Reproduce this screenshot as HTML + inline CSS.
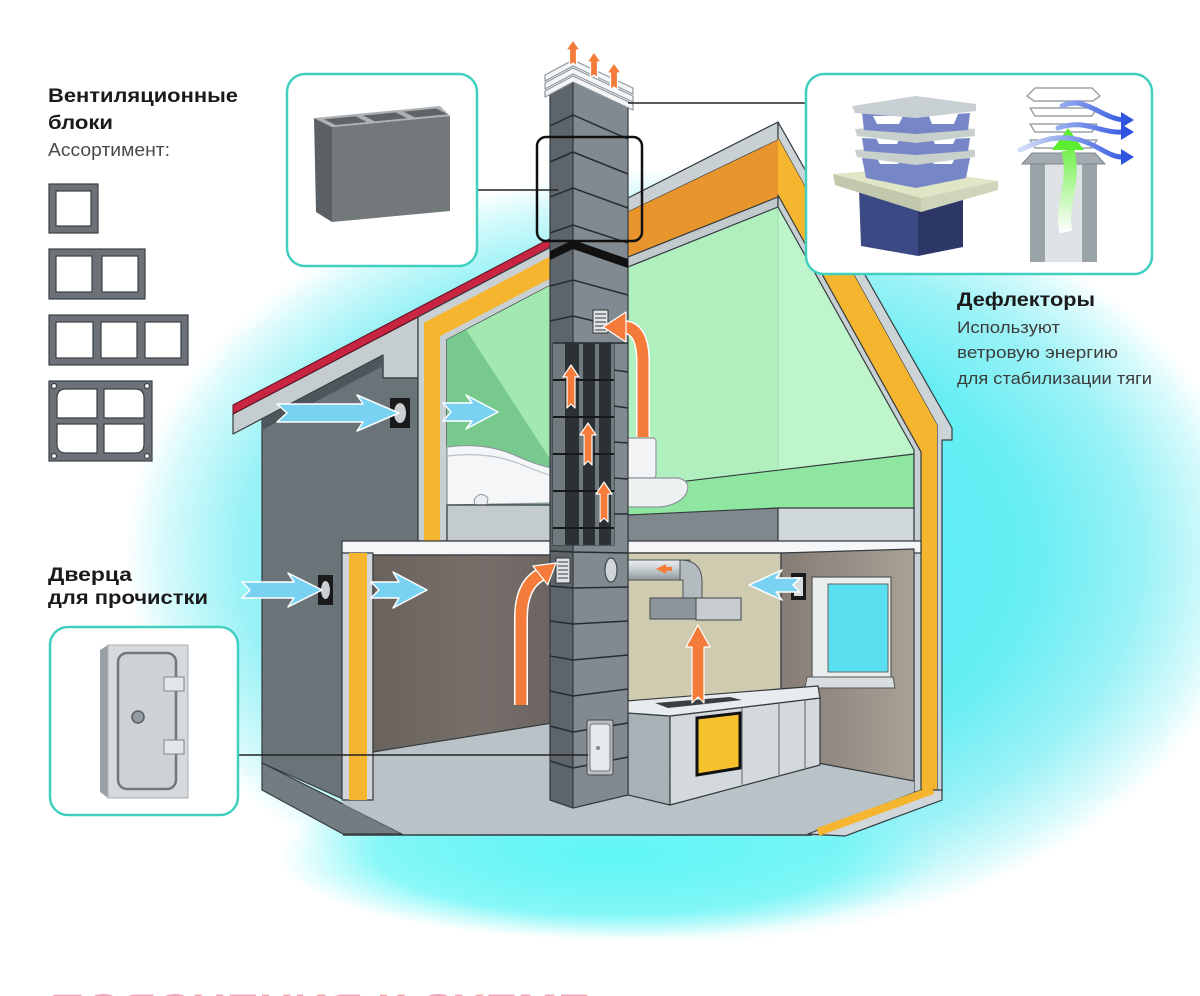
<!DOCTYPE html>
<html><head><meta charset="utf-8"><title>Вентиляционные блоки</title>
<style>
html,body{margin:0;padding:0;background:#fff;width:1200px;height:996px;overflow:hidden}
svg{display:block}
.t{font-family:"Liberation Sans","DejaVu Sans",sans-serif}
.o{stroke:#343b3f;stroke-width:1.2;stroke-linejoin:round}
.ob{fill:#f47b3a;stroke:#ffffff;stroke-width:1.2;stroke-linejoin:round}
.bl{fill:#7ad2f3;stroke:#ffffff;stroke-width:1.5;stroke-linejoin:round}
</style></head><body>
<svg width="1200" height="996" viewBox="0 0 1200 996" xmlns="http://www.w3.org/2000/svg">
<defs>
<radialGradient id="glow" cx="0.5" cy="0.5" r="0.5">
<stop offset="0" stop-color="#48eef4"/>
<stop offset="0.6" stop-color="#66eef4"/>
<stop offset="0.8" stop-color="#9af2f6"/>
<stop offset="0.93" stop-color="#d6fafb"/>
<stop offset="1" stop-color="#ffffff"/>
</radialGradient>
<radialGradient id="glow2" cx="0.5" cy="0.5" r="0.5">
<stop offset="0" stop-color="#5ff6f6" stop-opacity="1"/>
<stop offset="0.7" stop-color="#6ff6f6" stop-opacity="0.8"/>
<stop offset="1" stop-color="#7ff6f6" stop-opacity="0"/>
</radialGradient>
<linearGradient id="brown" x1="0" y1="0" x2="1" y2="0">
<stop offset="0" stop-color="#6a625d"/><stop offset="0.6" stop-color="#776f6a"/><stop offset="1" stop-color="#6b6460"/>
</linearGradient>
<linearGradient id="rwall" x1="0" y1="0" x2="1" y2="0">
<stop offset="0" stop-color="#857c76"/><stop offset="1" stop-color="#a9a296"/>
</linearGradient>
<linearGradient id="pipe" x1="0" y1="0" x2="0" y2="1">
<stop offset="0" stop-color="#eef1f2"/><stop offset="0.5" stop-color="#c3cace"/><stop offset="1" stop-color="#8f989d"/>
</linearGradient>
<linearGradient id="grn" gradientUnits="userSpaceOnUse" x1="0" y1="232" x2="0" y2="135">
<stop offset="0" stop-color="#ffffff"/><stop offset="1" stop-color="#5cec30"/>
</linearGradient>
<linearGradient id="blu" gradientUnits="userSpaceOnUse" x1="1020" y1="0" x2="1130" y2="0">
<stop offset="0" stop-color="#d2def7"/><stop offset="1" stop-color="#2f55e0"/>
</linearGradient>
</defs>

<rect width="1200" height="996" fill="#ffffff"/>
<ellipse cx="690" cy="555" rx="565" ry="388" fill="url(#glow)"/>
<ellipse cx="610" cy="855" rx="330" ry="85" fill="url(#glow2)"/>

<!-- ===== upper right room ===== -->
<polygon points="628,267 778,207 914,450 914,508 628,515" fill="#b0efbe"/>
<polygon points="778,207 914,450 914,508 778,508" fill="#bff5cb"/>
<polygon points="628,488 914,454 914,508 628,515" fill="#8ee6a0" class="o" stroke-width="0.8"/>
<line x1="778" y1="207" x2="778" y2="470" stroke="#9fdcae" stroke-width="1"/>

<!-- back roof strips -->
<polygon points="628,198 778,122 778,140 628,212" fill="#c9d0d3" class="o"/>
<polygon points="628,212 778,140 778,197 628,257" fill="#e8952e"/>
<polygon points="628,257 778,197 778,207 628,267" fill="#c2c9cc" class="o"/>

<!-- right gable -->
<polygon points="778,122 952,428 952,440 942,440 942,792 937,792 937,425 778,138" fill="#cdd4d7" class="o"/>
<polygon points="778,138 937,425 937,792 921,792 921,452 778,195" fill="#f6b52f"/>
<polygon points="778,195 921,452 921,792 914,792 914,450 778,207" fill="#c9d0d3" class="o"/>

<!-- ===== left roof / annex ===== -->
<polygon points="233,414 418,317 418,378 383,378 383,355 233,434" fill="#c6cdd0" class="o"/>
<polygon points="262,419 383,355.5 383,378 418,378 418,545 345,545 345,800 262,763" fill="#6a7378" class="o"/>
<polygon points="262,419 383,355.5 383,366 262,430" fill="#4e565b"/>
<polygon points="262,763 403,834 343,834 262,790" fill="#737c81" class="o"/>
<polygon points="233,405 552,237.5 552,246.5 233,414" fill="#c72541" stroke="#5a1020" stroke-width="1"/>

<!-- attic section & knee wall -->
<polygon points="418,317 552,246.5 552,284.5 447,339.6 447,541 418,541" fill="#c9d0d3" class="o"/>
<polygon points="424,322.7 552,255.5 552,277.5 440,336.3 440,541 424,541" fill="#f6b52f"/>

<!-- upper left room -->
<polygon points="447,339.6 552,284.5 552,512 447,512" fill="#a3e8b0"/>
<polygon points="447,339.6 466,329.6 552,462 552,512 447,512" fill="#78c98e"/>
<!-- bathtub -->
<path d="M447,447 Q482,442 512,454 Q536,465 552,468 L552,503 L447,505 Z" fill="#f4f6f7" stroke="#8e989d" stroke-width="1.2"/>
<path d="M447,456 Q488,451 520,464 Q540,472 552,476" fill="none" stroke="#b9c1c5" stroke-width="1.2"/>
<path d="M474,500 Q480,490 488,498 L486,511 L476,511 Z" fill="#eef1f2" stroke="#8e989d" stroke-width="1"/>

<!-- slabs -->
<rect x="447" y="505" width="105" height="36" fill="#c4cbce" class="o"/>
<polygon points="628,515 778,508 778,543 628,543" fill="#7f888d" class="o"/>
<polygon points="778,508 914,508 914,543 778,543" fill="#d0d7da" class="o"/>

<!-- toilet -->
<rect x="616" y="438" width="40" height="40" rx="3" fill="#f2f4f5" stroke="#8e989d" stroke-width="1.2"/>
<path d="M616,478 L678,478 Q692,481 686,494 Q679,505 660,507 L616,507 Z" fill="#eef1f2" stroke="#8e989d" stroke-width="1.2"/>

<!-- ===== lower floor ===== -->
<polygon points="343,720 914,720 914,800 845,836 403,834 343,804" fill="#b9c2c6"/>
<rect x="342" y="541" width="210" height="14" fill="#f4f6f7" class="o"/>
<rect x="628" y="541" width="293" height="12" fill="#f4f6f7" class="o"/>
<rect x="342" y="553" width="31" height="247" fill="#d0d6d9" class="o"/>
<rect x="349" y="553" width="18" height="247" fill="#f6b52f"/>
<polygon points="373,555 552,555 552,723 373,752" fill="url(#brown)" class="o"/>
<polygon points="628,553 781,553 781,705 628,705" fill="#cfcbb0" class="o"/>
<polygon points="781,553 914,549 914,781 818,763 781,765" fill="url(#rwall)" class="o"/>
<polygon points="808,834 921,790 942,790 942,800 845,836" fill="#d0d6d9" class="o"/>
<line x1="818" y1="832" x2="933" y2="790" stroke="#f6b52f" stroke-width="8"/>
<line x1="343" y1="835" x2="812" y2="835" stroke="#343b3f" stroke-width="1.5"/>

<!-- window -->
<rect x="812" y="577" width="79" height="106" fill="#e9eeef" stroke="#555" stroke-width="1.2"/>
<rect x="828" y="584" width="60" height="88" fill="#5ae0f0" stroke="#666" stroke-width="1"/>
<polygon points="807,677 893,677 895,688 805,688" fill="#d8dee0" stroke="#555" stroke-width="1"/>

<!-- kitchen cabinets -->
<polygon points="628,713 670,716 670,805 628,795" fill="#a8b1b6" class="o"/>
<polygon points="670,716 820,698 820,765 670,805" fill="#d3d9dc" class="o"/>
<polygon points="626,701 818,686 820,698 670,716 628,713" fill="#e8ecee" class="o"/>
<polygon points="655,703 730,697 742,700 668,708" fill="#3a3f42"/>
<line x1="742" y1="708" x2="742" y2="786" stroke="#6d767b" stroke-width="1.2"/>
<line x1="779" y1="703" x2="779" y2="776" stroke="#6d767b" stroke-width="1.2"/>
<line x1="805" y1="700" x2="805" y2="769" stroke="#6d767b" stroke-width="1.2"/>
<polygon points="697,718 740,713 740,768 697,775" fill="#f5c12c" stroke="#111" stroke-width="3"/>

<!-- hood & duct -->
<rect x="610" y="560" width="80" height="20" fill="url(#pipe)" stroke="#4a5257" stroke-width="1"/>
<path d="M680,560 Q702,560 702,582 L702,600 L683,600 L683,580 L680,580 Z" fill="#b3bbbf" stroke="#4a5257" stroke-width="1"/>
<rect x="650" y="598" width="46" height="21" fill="#8c959a" stroke="#3e464a" stroke-width="1"/>
<rect x="696" y="598" width="45" height="22" fill="#c7cdd0" stroke="#3e464a" stroke-width="1"/>
<polygon points="656,569 666,564 666,567 672,567 672,571 666,571 666,574" fill="#f47b3a"/>

<!-- ===== chimney ===== -->
<polygon points="550,91 573,79 573,808 550,800" fill="#5d656a" class="o"/>
<polygon points="573,79 628,105 628,795 573,808" fill="#818a90" class="o"/>
<g fill="none" stroke="#262c30" stroke-width="1.5">
<polyline points="550,126 573,115 628,139"/>
<polyline points="550,162 573,152 628,174"/>
<polyline points="550,197 573,188 628,208"/>
<polyline points="550,233 573,225 628,243"/>
<polyline points="550,286 573,280 628,295"/>
<polyline points="550,321 573,316 628,329"/>
<polyline points="550,551 573,552 628,553"/>
<polyline points="550,586 573,588 628,587"/>
<polyline points="550,621 573,624 628,621"/>
<polyline points="550,656 573,660 628,655"/>
<polyline points="550,691 573,696 628,689"/>
<polyline points="550,726 573,732 628,723"/>
<polyline points="550,761 573,768 628,757"/>
</g>
<polygon points="550,251 573,240 628,259 628,268 573,249 550,260" fill="#111"/>
<!-- cutaway -->
<rect x="553" y="343" width="61" height="202" fill="#2b3135" class="o"/>
<g fill="#6f797e">
<rect x="553" y="343" width="12" height="202"/>
<rect x="579" y="343" width="4" height="202"/>
<rect x="595" y="343" width="4" height="202"/>
<rect x="611" y="343" width="3" height="202"/>
</g>
<g stroke="#15191b" stroke-width="2">
<line x1="553" y1="380" x2="614" y2="380"/>
<line x1="553" y1="417" x2="614" y2="417"/>
<line x1="553" y1="454" x2="614" y2="454"/>
<line x1="553" y1="491" x2="614" y2="491"/>
<line x1="553" y1="528" x2="614" y2="528"/>
</g>
<g stroke="#262c30" stroke-width="1.5">
<line x1="614" y1="370" x2="628" y2="372"/>
<line x1="614" y1="406" x2="628" y2="408"/>
<line x1="614" y1="442" x2="628" y2="443"/>
<line x1="614" y1="478" x2="628" y2="479"/>
<line x1="614" y1="514" x2="628" y2="514"/>
</g>
<line x1="553" y1="343" x2="628" y2="343" stroke="#262c30" stroke-width="1.5"/>
<!-- cap -->
<g fill="#f4f6f7" stroke="#8e989d" stroke-width="1.2" stroke-linejoin="round">
<polygon points="545,91 573,76 633,104 633,110 573,82 545,97"/>
<polygon points="545,83 573,68 633,96 633,102 573,74 545,89"/>
<polygon points="545,75 573,60 633,88 633,94 573,66 545,81"/>
</g>
<!-- grilles -->
<rect x="593" y="310" width="15" height="23" fill="#dfe4e6" stroke="#333" stroke-width="1"/>
<g stroke="#555" stroke-width="1.2"><line x1="595" y1="314" x2="606" y2="314"/><line x1="595" y1="318" x2="606" y2="318"/><line x1="595" y1="322" x2="606" y2="322"/><line x1="595" y1="326" x2="606" y2="326"/><line x1="595" y1="330" x2="606" y2="330"/></g>
<rect x="556" y="558" width="14" height="25" fill="#dfe4e6" stroke="#333" stroke-width="1"/>
<g stroke="#555" stroke-width="1.2"><line x1="558" y1="562" x2="568" y2="562"/><line x1="558" y1="566" x2="568" y2="566"/><line x1="558" y1="570" x2="568" y2="570"/><line x1="558" y1="574" x2="568" y2="574"/><line x1="558" y1="578" x2="568" y2="578"/></g>
<ellipse cx="611" cy="570" rx="6" ry="12" fill="#cfd5d8" stroke="#3e464a" stroke-width="1.2"/>
<!-- chimney door -->
<rect x="587" y="720" width="26" height="55" rx="2" fill="#b7bfc3" stroke="#444" stroke-width="1"/>
<rect x="590" y="724" width="20" height="47" rx="3" fill="#e6eaec" stroke="#777" stroke-width="1"/>
<circle cx="598" cy="748" r="2" fill="#888"/>

<!-- vents -->
<rect x="390" y="398" width="20" height="30" fill="#1a1a1a"/>
<ellipse cx="400" cy="413" rx="6" ry="10" fill="#c9cfd2"/>
<rect x="318" y="575" width="15" height="30" fill="#1a1a1a"/>
<ellipse cx="325.5" cy="590" rx="4.5" ry="9" fill="#c9cfd2"/>
<rect x="791" y="573" width="15" height="27" fill="#1a1a1a"/>
<rect x="794" y="577" width="9" height="19" fill="#d6dbdd"/>

<!-- blue arrows -->
<polygon class="bl" points="277,404 363,404 357,395 399,413 357,431 363,422 277,422 287,413"/>
<polygon class="bl" points="443,403 472,403 466,395 498,412 466,429 472,421 443,421 451,412"/>
<polygon class="bl" points="242,582 294,582 288,573 322,590 288,607 294,598 242,598 250,590"/>
<polygon class="bl" points="371,582 399,582 393,572 427,590 393,608 399,598 371,598 379,590"/>
<polygon class="bl" points="800,578 776,578 782,570 749,585 782,600 776,592 800,592 793,585"/>

<!-- orange arrows -->
<polygon class="ob" points="567,408 567,377 563,377 571,365 579,377 575,377 575,408 571,404"/>
<polygon class="ob" points="584,465 584,435 580,435 588,423 596,435 592,435 592,465 588,461"/>
<polygon class="ob" points="600,522 600,494 596,494 604,482 612,494 608,494 608,522 604,518"/>
<polygon class="ob" points="692,703 692,647 686,647 698,625 710,647 704,647 704,703 698,697"/>
<polygon class="ob" points="569.5,66 569.5,50 566,50 573,40 580,50 576.5,50 576.5,66 573,63"/>
<polygon class="ob" points="590.5,78 590.5,62 587,62 594,52 601,62 597.5,62 597.5,78 594,75"/>
<polygon class="ob" points="610.5,90 610.5,73 607,73 614,63 621,73 617.5,73 617.5,90 614,87"/>
<path d="M643,437 L643,362 Q643,328 624,327" fill="none" stroke="#ffffff" stroke-width="14"/>
<path d="M643,437 L643,362 Q643,328 624,327" fill="none" stroke="#f47b3a" stroke-width="11"/>
<polygon class="ob" points="603,327 626,312 626,342"/>
<path d="M521,705 L521,618 Q521,584 542,574" fill="none" stroke="#ffffff" stroke-width="14"/>
<path d="M521,705 L521,618 Q521,584 542,574" fill="none" stroke="#f47b3a" stroke-width="11"/>
<polygon class="ob" points="556,563 547.7,584.8 532.9,566"/>

<!-- connectors -->
<line x1="477" y1="190" x2="558" y2="190" stroke="#222" stroke-width="1.5"/>
<line x1="628" y1="103" x2="806" y2="103" stroke="#222" stroke-width="1.5"/>
<line x1="238" y1="755" x2="588" y2="755" stroke="#222" stroke-width="1.5"/>
<rect x="537" y="137" width="105" height="104" rx="9" fill="none" stroke="#111" stroke-width="2.5"/>

<!-- ===== callout: block ===== -->
<rect x="287" y="74" width="190" height="192" rx="18" fill="#ffffff" stroke="#41cfbf" stroke-width="2.5"/>
<polygon points="314,118 332,127 332,222 316,212" fill="#5a6063"/>
<polygon points="332,127 450,116 450,211 332,222" fill="#73787b"/>
<polygon points="314,118 440,106 450,116 332,127" fill="#aeb2b4"/>
<polygon points="323.9,119.2 355.4,116.2 367.1,122 335.6,125" fill="#5e6467"/>
<polygon points="363,115.5 395.7,112.4 407.4,118.2 374.7,121.3" fill="#5e6467"/>
<polygon points="403.3,111.6 436,108.5 447.7,114.3 415,117.4" fill="#5e6467"/>

<!-- ===== callout: deflectors ===== -->
<rect x="806" y="74" width="346" height="200" rx="18" fill="#ffffff" stroke="#41cfbf" stroke-width="2.5"/>
<polygon points="859,190 918,200 918,256 861,246" fill="#3b4a85"/>
<polygon points="918,200 963,195 963,247 918,256" fill="#2c3767"/>
<polygon points="833,174 906,168 998,181 921,198" fill="#dfe5c5"/>
<polygon points="833,174 921,198 921,212 835,185" fill="#c2c8ac"/>
<polygon points="921,198 998,181 998,190 921,212" fill="#cfd4bb"/>
<polygon points="862,158 916,162 970,158 966,178 916,188 866,178" fill="#7786c6"/>
<polygon points="876,156 902,157 898,164 880,164" fill="#ffffff"/>
<polygon points="930,157 956,156 952,164 934,164" fill="#ffffff"/>
<polygon points="855,150 916,146 975,150 975,157 916,165 857,157" fill="#c8d0cc"/>
<polygon points="862,138 916,141 970,138 968,151 916,155 864,151" fill="#7786c6"/>
<polygon points="875,136 901,136 897,144 879,144" fill="#ffffff"/>
<polygon points="931,136 957,136 953,144 935,144" fill="#ffffff"/>
<polygon points="855,129 916,124 975,129 975,136 916,143 857,136" fill="#c8d0cc"/>
<polygon points="862,113 916,117 970,113 968,130 916,134 864,130" fill="#7786c6"/>
<polygon points="873,116 903,116 899,124 877,124" fill="#ffffff"/>
<polygon points="928,114 958,114 954,124 932,124" fill="#ffffff"/>
<polygon points="852,106 916,96 976,104 976,111 916,118 855,113" fill="#c9d0d4"/>
<!-- right diagram -->
<rect x="1030" y="160" width="67" height="102" fill="#dfe3e5"/>
<rect x="1030" y="160" width="15" height="102" fill="#9aa3a8"/>
<rect x="1082" y="160" width="15" height="102" fill="#9aa3a8"/>
<polygon points="1022,164 1032,153 1095,153 1105,164" fill="#a3abb0" stroke="#7c858a" stroke-width="1"/>
<g fill="#ffffff" stroke="#9aa3a8" stroke-width="1.5" stroke-linejoin="round">
<polygon points="1027,96 1035,88 1092,88 1100,96 1093,101 1034,101"/>
<polygon points="1030,108 1097,108 1092,116 1035,116"/>
<polygon points="1030,124 1097,124 1092,132 1035,132"/>
<polygon points="1030,140 1097,140 1092,148 1035,148"/>
</g>
<path d="M1066,232 C1060,205 1076,185 1068,150" fill="none" stroke="url(#grn)" stroke-width="13"/>
<polygon points="1068,128 1084,150 1052,150" fill="#5cec30"/>
<g fill="none" stroke="url(#blu)" stroke-width="5" stroke-linecap="round">
<path d="M1062,106 C1085,95 1100,118 1124,120"/>
<path d="M1058,128 C1085,118 1100,134 1124,132"/>
<path d="M1020,150 C1045,138 1060,135 1080,140 C1100,146 1110,158 1124,157"/>
</g>
<g fill="#2f55e0">
<polygon points="1134,120 1121,112 1121,128"/>
<polygon points="1134,132 1121,124 1121,140"/>
<polygon points="1134,157 1121,149 1121,165"/>
</g>

<!-- ===== callout: door ===== -->
<rect x="50" y="627" width="188" height="188" rx="18" fill="#ffffff" stroke="#41cfbf" stroke-width="2.5"/>
<polygon points="100,650 108,645 108,798 100,792" fill="#9aa1a5"/>
<rect x="108" y="645" width="80" height="153" fill="#d6dadc" stroke="#a9b0b4" stroke-width="1"/>
<rect x="118" y="653" width="58" height="136" rx="9" fill="#cdd2d5" stroke="#6f787d" stroke-width="2.5"/>
<rect x="164" y="677" width="20" height="14" fill="#e4e7e9" stroke="#7e868b" stroke-width="1"/>
<rect x="164" y="740" width="20" height="14" fill="#e4e7e9" stroke="#7e868b" stroke-width="1"/>
<circle cx="138" cy="717" r="6" fill="#959da2" stroke="#555d62" stroke-width="1.5"/>

<!-- ===== block icons ===== -->
<g fill="#6c7277" stroke="#3a3f43" stroke-width="1.2">
<rect x="49" y="184" width="49" height="49"/>
<rect x="49" y="249" width="96" height="50"/>
<rect x="49" y="315" width="139" height="50"/>
<rect x="49" y="381" width="103" height="80"/>
</g>
<g fill="#ffffff" stroke="#3a3f43" stroke-width="1.2">
<rect x="56" y="191" width="35" height="35"/>
<rect x="56" y="256" width="36" height="36"/>
<rect x="102" y="256" width="36" height="36"/>
<rect x="56" y="322" width="37" height="36"/>
<rect x="101" y="322" width="36" height="36"/>
<rect x="145" y="322" width="36" height="36"/>
<path d="M66,389 H97 V418 H57 V398 Q57,389 66,389 Z"/>
<path d="M104,389 H135 Q144,389 144,398 V418 H104 Z"/>
<path d="M57,424 H97 V453 H66 Q57,453 57,444 Z"/>
<path d="M104,424 H144 V444 Q144,453 135,453 H104 Z"/>
<circle cx="54" cy="386" r="2.5"/><circle cx="147" cy="386" r="2.5"/>
<circle cx="54" cy="456" r="2.5"/><circle cx="147" cy="456" r="2.5"/>
</g>

<!-- ===== texts ===== -->
<g class="t">
<text x="48" y="102" font-size="19" font-weight="bold" fill="#1a1a1a" textLength="190" lengthAdjust="spacingAndGlyphs">Вентиляционные</text>
<text x="48" y="129" font-size="19" font-weight="bold" fill="#1a1a1a" textLength="65" lengthAdjust="spacingAndGlyphs">блоки</text>
<text x="48" y="156" font-size="18" fill="#4a4a4a" textLength="122" lengthAdjust="spacingAndGlyphs">Ассортимент:</text>
<text x="957" y="306" font-size="19" font-weight="bold" fill="#1a1a1a" textLength="138" lengthAdjust="spacingAndGlyphs">Дефлекторы</text>
<text x="957" y="333" font-size="17" fill="#3c3c3c" textLength="103" lengthAdjust="spacingAndGlyphs">Используют</text>
<text x="957" y="358" font-size="17" fill="#3c3c3c" textLength="161" lengthAdjust="spacingAndGlyphs">ветровую энергию</text>
<text x="957" y="384" font-size="17" fill="#3c3c3c" textLength="195" lengthAdjust="spacingAndGlyphs">для стабилизации тяги</text>
<text x="48" y="581" font-size="19" font-weight="bold" fill="#1a1a1a" textLength="84" lengthAdjust="spacingAndGlyphs">Дверца</text>
<text x="48" y="604" font-size="19" font-weight="bold" fill="#1a1a1a" textLength="160" lengthAdjust="spacingAndGlyphs">для прочистки</text>
<text x="50" y="1022" font-size="40" font-weight="bold" fill="#f3a5b5" textLength="540" lengthAdjust="spacingAndGlyphs">ПОЯСНЕНИЯ К СХЕМЕ</text>
</g>
</svg>
</body></html>
